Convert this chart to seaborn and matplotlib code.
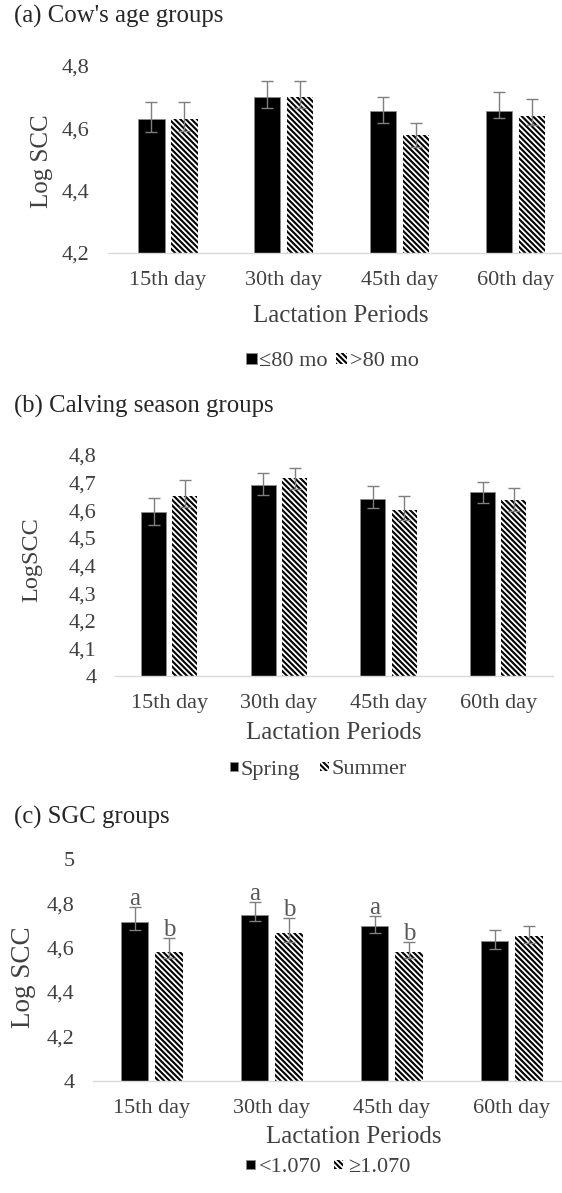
import matplotlib
matplotlib.use("Agg")
import matplotlib.pyplot as plt
from matplotlib.ticker import MultipleLocator, FuncFormatter
import numpy as np
import pandas as pd
import seaborn as sns

periods = ["15th day", "30th day", "45th day", "60th day"]

# (a) cow's age groups
age_groups = ["≤80 mo", ">80 mo"]
age_young = [4.630, 4.701, 4.657, 4.657]
age_young_lo = [4.588, 4.666, 4.616, 4.632]
age_young_hi = [4.684, 4.752, 4.701, 4.717]
age_old = [4.630, 4.701, 4.579, 4.640]
age_old_lo = [4.590, 4.666, 4.541, 4.611]
age_old_hi = [4.683, 4.752, 4.616, 4.694]

# (b) calving season groups
season_groups = ["Spring", "Summer"]
spring = [4.594, 4.691, 4.640, 4.665]
spring_lo = [4.547, 4.656, 4.608, 4.626]
spring_hi = [4.644, 4.734, 4.688, 4.701]
summer = [4.652, 4.716, 4.601, 4.638]
summer_lo = [4.613, 4.676, 4.565, 4.598]
summer_hi = [4.708, 4.752, 4.650, 4.681]

# (c) SGC groups
sgc_groups = ["<1.070", "≥1.070"]
sgc_low = [4.714, 4.746, 4.699, 4.630]
sgc_low_lo = [4.680, 4.720, 4.665, 4.594]
sgc_low_hi = [4.782, 4.807, 4.743, 4.680]
sgc_high = [4.579, 4.668, 4.579, 4.653]
sgc_high_lo = [4.552, 4.627, 4.552, 4.620]
sgc_high_hi = [4.642, 4.733, 4.624, 4.696]
sgc_letters_low = ["a", "a", "a", ""]
sgc_letters_high = ["b", "b", "b", ""]

sns.set_theme(style="white")
plt.rcParams["font.family"] = ["Liberation Serif", "DejaVu Serif"]
plt.rcParams["hatch.linewidth"] = 1.5

W, H = 562, 1193
fig = plt.figure(figsize=(W / 100, H / 100), dpi=100)
TXT = "#404040"


def px_axes(left, right, top, bottom):
    return fig.add_axes([left / W, 1 - bottom / H, (right - left) / W, (bottom - top) / H])


def comma(v, pos):
    return f"{round(v, 3):g}".replace(".", ",")


def panel(ax, groups, means, lows, highs, ylim, step, xlim):
    df = pd.DataFrame({
        "period": periods * 2,
        "group": [groups[0]] * 4 + [groups[1]] * 4,
        "value": means[0] + means[1],
    })
    sns.barplot(data=df, x="period", y="value", hue="group", order=periods,
                hue_order=groups, palette=["black", "white"], saturation=1,
                width=0.57, gap=0.2, errorbar=None, legend=False, ax=ax)
    bars = list(ax.containers[:2])
    for p in bars[0]:
        p.set_edgecolor("#8c8c8c")
        p.set_linewidth(0.6)
    for p in bars[1]:
        p.set_facecolor("white")
        p.set_edgecolor("black")
        p.set_hatch("\\" * 6)
        p.set_linewidth(0)
    centers = []
    for cont, m, lo, hi in zip(bars, means, lows, highs):
        xs = [p.get_x() + p.get_width() / 2 for p in cont]
        centers.append(xs)
        ax.errorbar(xs, m, yerr=[np.subtract(m, lo), np.subtract(hi, m)], fmt="none",
                    ecolor="#7f7f7f", elinewidth=1, capsize=4, capthick=1, zorder=3)
    ax.set_ylim(*ylim)
    ax.set_xlim(*xlim)
    ax.yaxis.set_major_locator(MultipleLocator(step))
    ax.yaxis.set_major_formatter(FuncFormatter(comma))
    ax.tick_params(axis="both", length=0, pad=13, labelsize=16, colors=TXT)
    sns.despine(ax=ax, left=True)
    ax.spines["bottom"].set_color("#d9d9d9")
    ax.spines["bottom"].set_linewidth(1)
    ax.grid(False)
    return bars, centers


# ---- (a)
ax1 = px_axes(107.5, 562, 66, 253)
bars, _ = panel(ax1, age_groups, [age_young, age_old], [age_young_lo, age_old_lo],
                [age_young_hi, age_old_hi], (4.2, 4.8), 0.2, (-0.522, 3.402))
ax1.set_xlabel("Lactation Periods", fontsize=18, color=TXT, va="center")
ax1.xaxis.set_label_coords(0.514, -0.337)
ax1.set_ylabel("Log SCC", fontsize=18, color=TXT, va="center")
ax1.yaxis.set_label_coords(-0.144, 0.49)
ax1.legend(handles=bars, labels=age_groups, loc="center", ncol=2, frameon=False,
           bbox_to_anchor=(332 / W, 1 - 362 / H), bbox_transform=fig.transFigure,
           fontsize=16, labelcolor=TXT, handlelength=0.5, handleheight=0.35,
           handletextpad=0.1, columnspacing=0.4, borderpad=0)
fig.text(14 / W, 1 - 23 / H, "(a) Cow's age groups", fontsize=17.8, va="baseline", color="#262626")

# ---- (b)
ax2 = px_axes(114.5, 553, 455, 676)
bars, _ = panel(ax2, season_groups, [spring, summer], [spring_lo, summer_lo],
                [spring_hi, summer_hi], (4.0, 4.8), 0.1, (-0.5, 3.5))
ax2.set_xlabel("Lactation Periods", fontsize=18, color=TXT, va="center")
ax2.xaxis.set_label_coords(0.50, -0.258)
ax2.set_ylabel("LogSCC", fontsize=17.5, color=TXT, va="center")
ax2.yaxis.set_label_coords(-0.188, 0.525)
ax2.legend(handles=bars, labels=season_groups, loc="center", ncol=2, frameon=False,
           bbox_to_anchor=(318 / W, 1 - 770 / H), bbox_transform=fig.transFigure,
           fontsize=16, labelcolor=TXT, handlelength=0.4, handleheight=0.25,
           handletextpad=0.1, columnspacing=0.9, borderpad=0)
fig.text(14 / W, 1 - 413 / H, "(b) Calving season groups", fontsize=17.8, va="baseline", color="#262626")

# ---- (c)
ax3 = px_axes(92.5, 562, 859, 1080.7)
bars, centers = panel(ax3, sgc_groups, [sgc_low, sgc_high], [sgc_low_lo, sgc_high_lo],
                      [sgc_low_hi, sgc_high_hi], (4.0, 5.0), 0.2, (-0.494, 3.418))
for xs, tops, letters in zip(centers, [sgc_low_hi, sgc_high_hi], [sgc_letters_low, sgc_letters_high]):
    for x, t, s in zip(xs, tops, letters):
        if s:
            ax3.annotate(s, (x, t), xytext=(0, 1.5), textcoords="offset points",
                         ha="center", va="baseline", fontsize=18, color="#595959")
ax3.set_xlabel("Lactation Periods", fontsize=18, color=TXT, va="center")
ax3.xaxis.set_label_coords(0.557, -0.254)
ax3.set_ylabel("Log SCC", fontsize=19.5, color=TXT, va="center")
ax3.yaxis.set_label_coords(-0.148, 0.468)
ax3.legend(handles=bars, labels=sgc_groups, loc="center", ncol=2, frameon=False,
           bbox_to_anchor=(328 / W, 1 - 1168 / H), bbox_transform=fig.transFigure,
           fontsize=16, labelcolor=TXT, handlelength=0.4, handleheight=0.25,
           handletextpad=0.2, columnspacing=0.55, borderpad=0)
fig.text(14 / W, 1 - 824 / H, "(c) SGC groups", fontsize=17.8, va="baseline", color="#262626")

fig.savefig("out.png", dpi=100)
